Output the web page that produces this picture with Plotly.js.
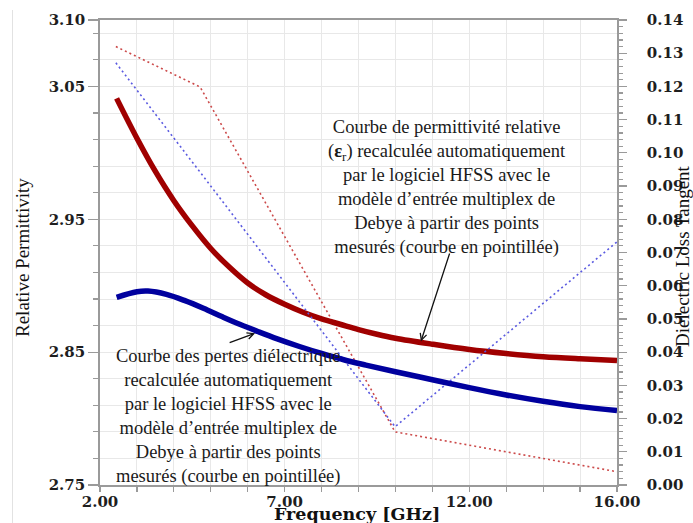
<!DOCTYPE html>
<html>
<head>
<meta charset="utf-8">
<script src="https://cdn.plot.ly/plotly-3.0.1.min.js"></script>
<style>html,body{margin:0;padding:0;background:#fff;}#chart{width:693px;height:523px;}</style>
</head>
<body>
<div id="chart"></div>
<script>
// Fitted (Debye) relative permittivity curve (left axis)
const freqEps = [2.45, 3.0, 3.5, 4.0, 4.5, 5.0, 5.5, 6.0, 6.5, 7.0, 7.5, 8.0, 8.5, 9.0, 9.5, 10.0, 11.0, 12.0, 13.0, 14.0, 15.0, 16.0];
const epsFit  = [3.041, 3.011, 2.986, 2.964, 2.945, 2.928, 2.914, 2.902, 2.893, 2.886, 2.880, 2.875, 2.871, 2.867, 2.8635, 2.8605, 2.856, 2.852, 2.849, 2.8466, 2.845, 2.8437];
// Fitted (Debye) loss tangent curve (right axis)
const freqTan = [2.45, 3.0, 3.3, 3.8, 4.3, 4.8, 5.3, 5.8, 6.3, 6.8, 7.4, 8.0, 8.6, 9.2, 10.0, 11.0, 12.0, 13.0, 14.0, 15.0, 16.0];
const tanFit  = [0.0565, 0.0582, 0.0584, 0.0574, 0.0555, 0.0532, 0.0507, 0.0483, 0.0461, 0.0440, 0.0417, 0.0396, 0.0377, 0.0361, 0.0341, 0.0317, 0.0293, 0.0271, 0.0252, 0.0236, 0.0224];
// Measured points (dotted curves)
const freqMeas = [2.43, 4.71, 9.99, 16.0];
const epsMeas  = [3.080, 3.0496, 2.790, 2.760];
const tanMeas  = [0.1271, 0.0942, 0.01755, 0.0732];
// Tick labels
const xTickVals = [2, 7, 12, 16];
const xTickText = ['2.00', '7.00', '12.00', '16.00'];
const xMinorVals = [3, 4, 5, 6, 8, 9, 10, 11, 13, 14, 15];
const yTickVals = [2.75, 2.85, 2.95, 3.05, 3.10];
const yTickText = ['2.75', '2.85', '2.95', '3.05', '3.10'];

const annFont = {family: 'Liberation Serif', size: 18.5, color: '#1a1a1a'};
const tickFont = {family: 'DejaVu Serif', size: 15, color: '#1e1e1e', weight: 'bold'};
const axisCol = '#9a9a9a';
const gridCol = '#e8e8e8';

const traces = [
  {x: freqMeas, y: epsMeas, yaxis: 'y', mode: 'lines', line: {color: '#cc4a4a', width: 1.6, dash: '2px,3px'}, hoverinfo: 'none'},
  {x: freqMeas, y: tanMeas, yaxis: 'y2', mode: 'lines', line: {color: '#5a5ae0', width: 1.6, dash: '2px,3px'}, hoverinfo: 'none'},
  {x: freqEps, y: epsFit, yaxis: 'y', mode: 'lines', line: {color: '#a00000', width: 5.5, shape: 'spline', smoothing: 1}, hoverinfo: 'none'},
  {x: freqTan, y: tanFit, yaxis: 'y2', mode: 'lines', line: {color: '#00009e', width: 5.5, shape: 'spline', smoothing: 1}, hoverinfo: 'none'}
];

const layout = {
  width: 693, height: 523,
  margin: {l: 100, r: 76, t: 20, b: 38},
  paper_bgcolor: '#fff', plot_bgcolor: '#fff',
  showlegend: false,
  xaxis: {
    range: [2, 16], tickmode: 'array', tickvals: xTickVals, ticktext: xTickText,
    ticks: 'outside', ticklen: 5, tickwidth: 1.2, tickcolor: axisCol,
    showline: true, linecolor: axisCol, linewidth: 1.8, mirror: true,
    showgrid: true, gridcolor: gridCol, gridwidth: 1, zeroline: false,
    tickfont: tickFont, ticklabelstandoff: -3,
    minor: {tickmode: 'array', tickvals: xMinorVals, ticks: 'outside', ticklen: 5, tickcolor: axisCol, showgrid: true, gridcolor: gridCol}
  },
  yaxis: {
    range: [2.75, 3.10], tickmode: 'array', tickvals: yTickVals, ticktext: yTickText,
    ticks: 'outside', ticklen: 10, tickwidth: 1.2, tickcolor: axisCol,
    showline: true, linecolor: axisCol, linewidth: 1.8,
    showgrid: true, gridcolor: gridCol, zeroline: false,
    tickfont: tickFont,
    minor: {tick0: 2.75, dtick: 0.02, ticks: 'outside', ticklen: 5, tickcolor: axisCol, showgrid: true, gridcolor: gridCol}
  },
  yaxis2: {
    overlaying: 'y', side: 'right', range: [0, 0.14], dtick: 0.01, tick0: 0, tickformat: '.2f',
    ticks: 'outside', ticklen: 8, tickwidth: 1.2, tickcolor: axisCol,
    showline: true, linecolor: axisCol, linewidth: 1.8,
    showgrid: false, zeroline: false, ticklabelstandoff: 17,
    tickfont: tickFont,
    minor: {dtick: 0.002, ticks: 'outside', ticklen: 4, tickcolor: axisCol, showgrid: false}
  },
  shapes: [
    {type: 'line', xref: 'paper', yref: 'paper', x0: -0.1692, x1: -0.1692, y0: -0.0817, y1: 1.0215, line: {color: '#e2e2e2', width: 1}}
  ],
  annotations: [
    {xref: 'x', yref: 'y', x: 11.40, y: 2.9736, xanchor: 'center', yanchor: 'middle', showarrow: false, align: 'center', font: annFont,
     text: 'Courbe de permittivité relative<br>(<b>ε</b><sub>r</sub>) recalculée automatiquement<br>par le logiciel HFSS avec le<br>modèle d’entrée multiplex de<br>Debye à partir des points<br>mesurés (courbe en pointillée)'},
    {xref: 'x', yref: 'y', x: 5.466, y: 2.8017, xanchor: 'center', yanchor: 'middle', showarrow: false, align: 'center', font: annFont,
     text: 'Courbe des pertes diélectrique<br>recalculée automatiquement<br>par le logiciel HFSS avec le<br>modèle d’entrée multiplex de<br>Debye à partir des points<br>mesurés (courbe en pointillée)'},
    {xref: 'x', yref: 'y', x: 10.69, y: 2.858, axref: 'x', ayref: 'y', ax: 11.48, ay: 2.9254, text: '', showarrow: true, arrowhead: 5, arrowsize: 1, arrowwidth: 1.3, arrowcolor: '#111'},
    {xref: 'x', yref: 'y', x: 6.20, y: 2.8643, axref: 'x', ayref: 'y', ax: 5.47, ay: 2.8567, text: '', showarrow: true, arrowhead: 5, arrowsize: 1, arrowwidth: 1.3, arrowcolor: '#111'},
    {xref: 'paper', yref: 'paper', x: -0.1509, y: 0.4903, textangle: -90, xanchor: 'center', yanchor: 'middle', showarrow: false,
     text: 'Relative Permittivity', font: {family: 'Liberation Serif', size: 19, color: '#111'}},
    {xref: 'paper', yref: 'paper', x: 1.1277, y: 0.4925, textangle: -90, xanchor: 'center', yanchor: 'middle', showarrow: false,
     text: 'Dielectric Loss Tangent', font: {family: 'Liberation Serif', size: 19, color: '#111'}},
    {xref: 'paper', yref: 'paper', x: 0.497, y: -0.0624, xanchor: 'center', yanchor: 'middle', showarrow: false,
     text: 'Frequency [GHz]', font: {family: 'DejaVu Serif', size: 17.5, color: '#111', weight: 'bold'}}
  ]
};

Plotly.newPlot('chart', traces, layout, {staticPlot: true, displayModeBar: false});
</script>
</body>
</html>
